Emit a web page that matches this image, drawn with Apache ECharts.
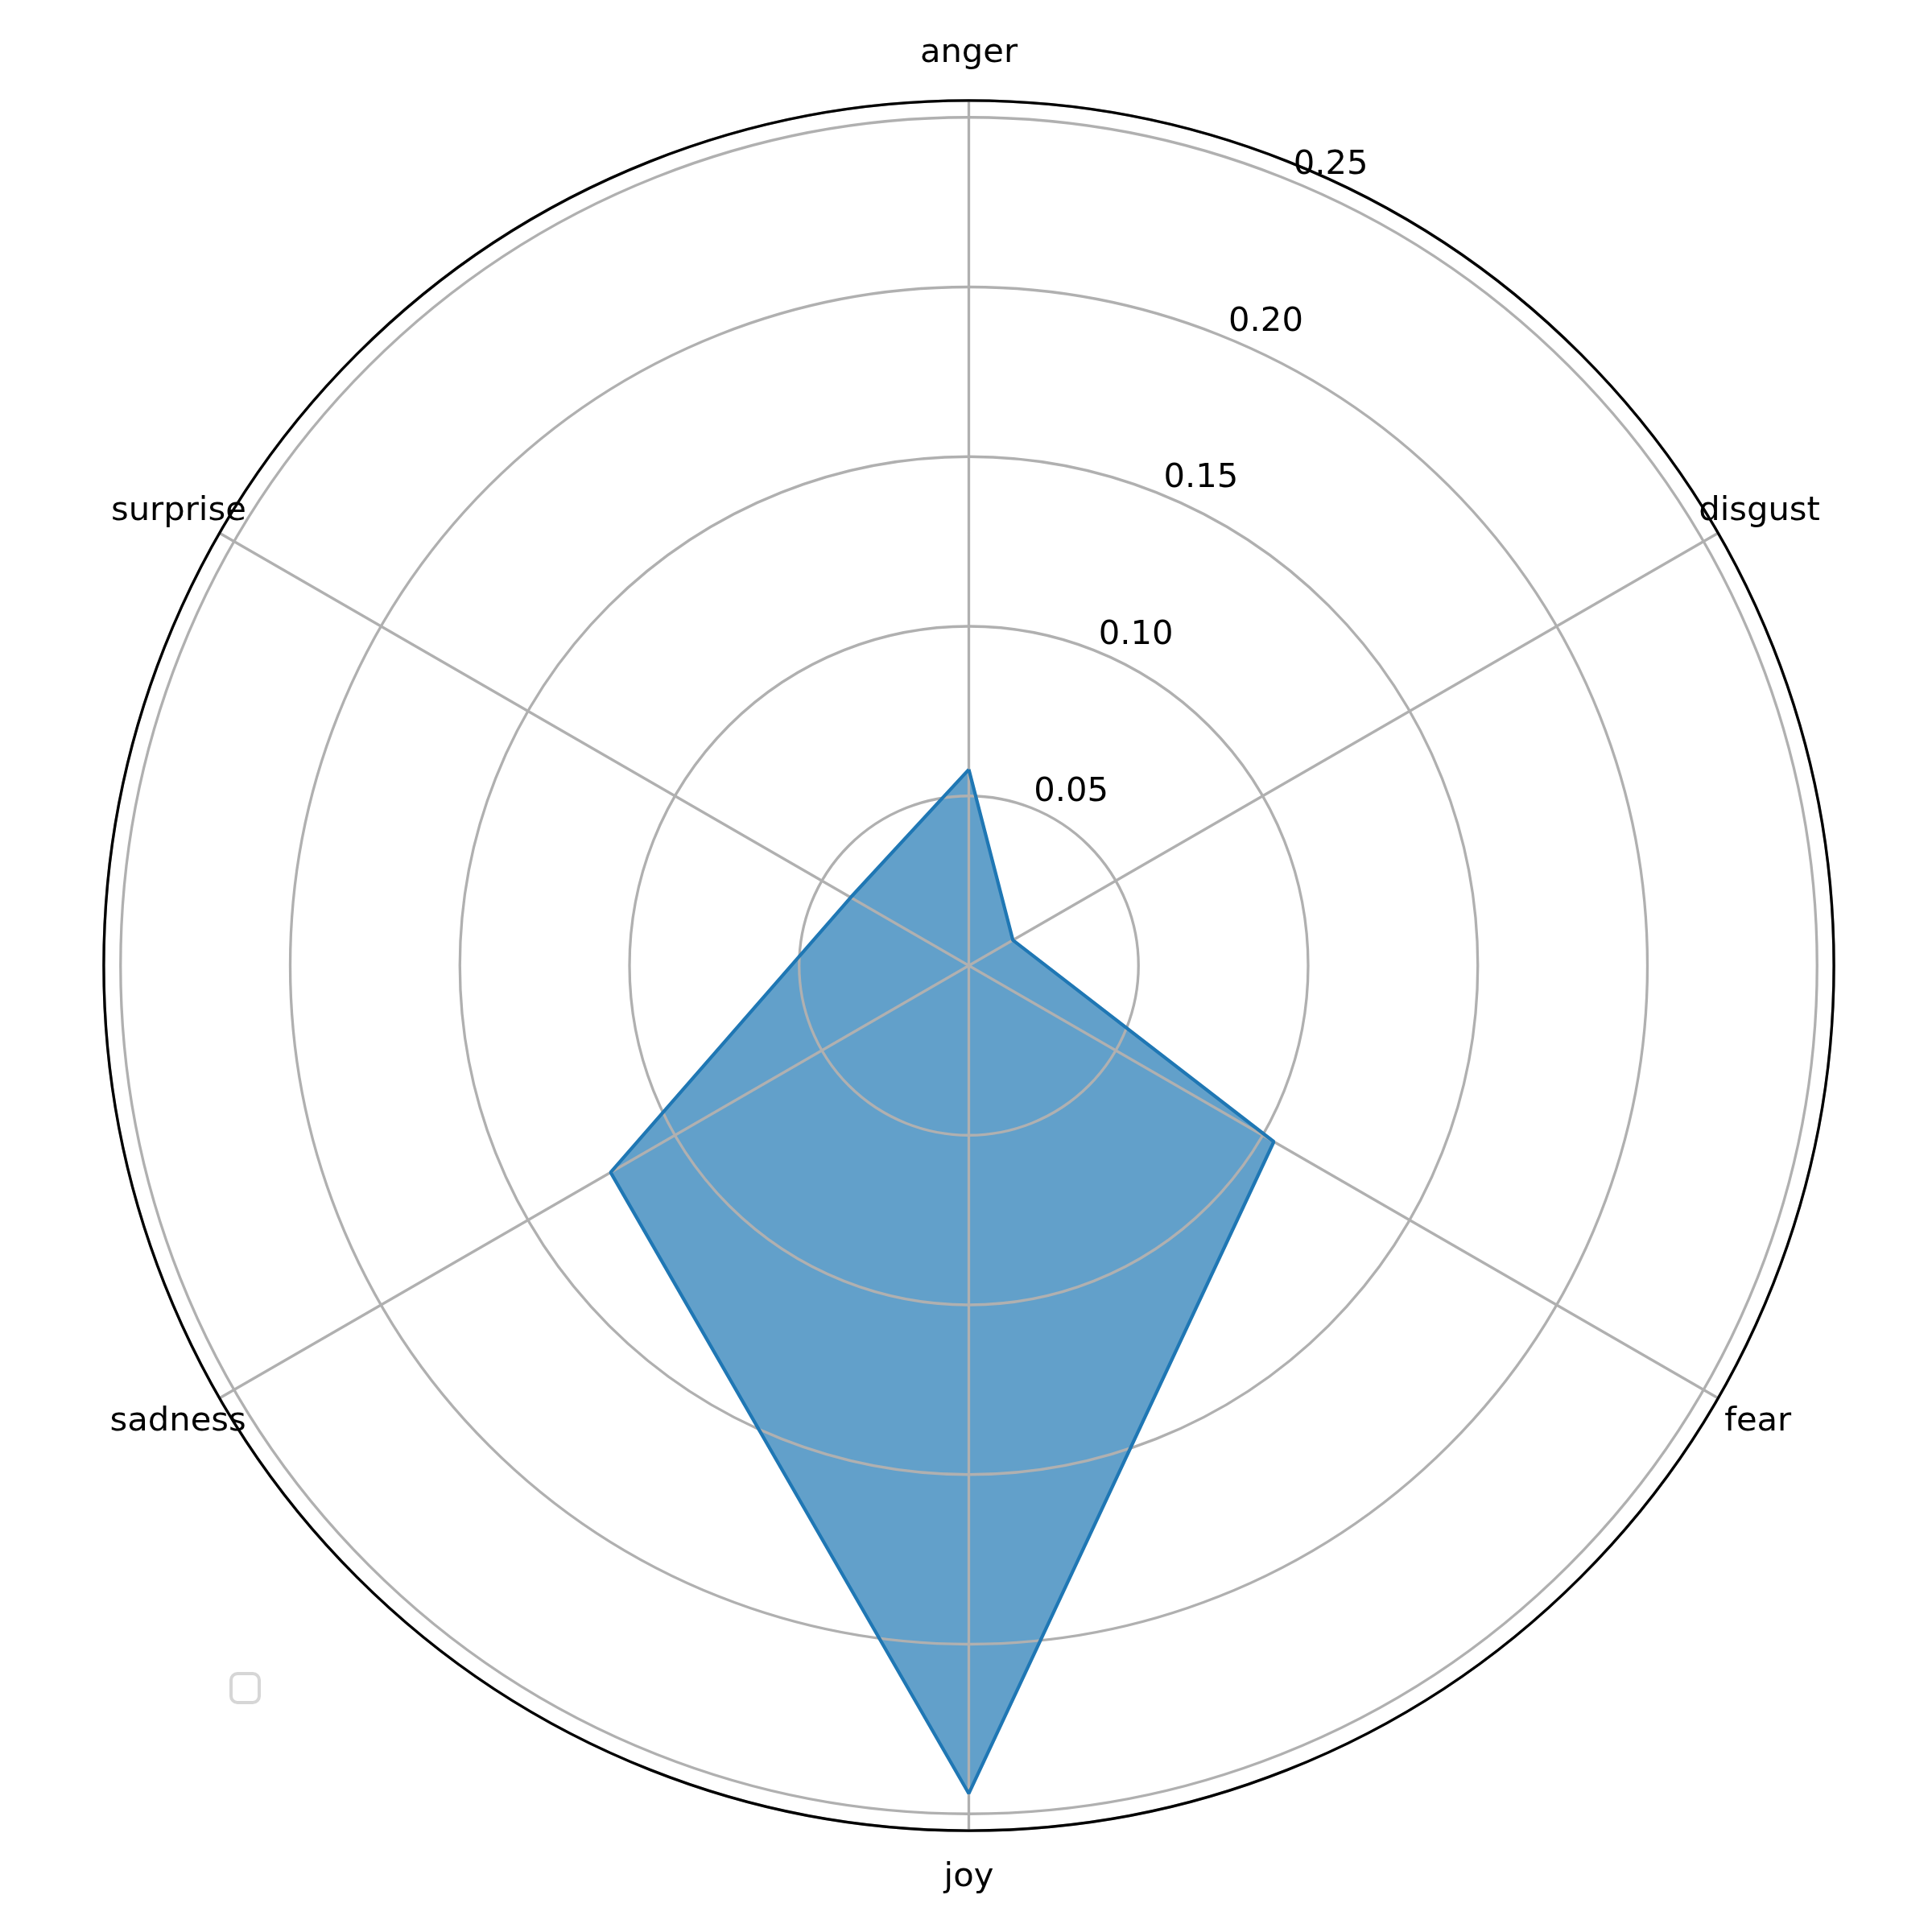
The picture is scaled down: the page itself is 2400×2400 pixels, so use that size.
<!DOCTYPE html>
<html>
<head>
<meta charset="utf-8">
<script src="https://cdn.jsdelivr.net/npm/echarts@6/dist/echarts.min.js"></script>
<style>
html,body{margin:0;padding:0;background:#fff;}
#chart{width:2400px;height:2400px;}
</style>
</head>
<body>
<div id="chart"></div>
<script>
// ---- data ----
const categories = ['anger', 'disgust', 'fear', 'joy', 'sadness', 'surprise'];
const values = [0.0578, 0.0150, 0.1038, 0.2440, 0.1219, 0.0402];
const radiusTicks = [0.05, 0.10, 0.15, 0.20, 0.25];
const radiusMax = 0.25495;

// ---- layout / style ----
const FONT = 'DejaVu Sans';
const FS = 41.7;
const rlabelPos = 22.5;           // radial tick labels at 22.5deg clockwise from top
const step = 360 / categories.length;
const CENTER = [1203.5, 1199.5];
const RADIUS = 1074.6;

const seriesData = categories.map((c, i) => [values[i], i * step]);
seriesData.push([values[0], categories.length * step]);

// per-label paddings [top, right, bottom, left]
const labelPad = {
  anger:    [0, 0, 147, 0],
  disgust:  [0, 0, 46, 9],
  fear:     [50, 0, 0, 41],
  joy:      [147, 0, 0, 0],
  sadness:  [50, 0, 0, 0],
  surprise: [0, 0, 46, 0]
};
const rich = {};
categories.forEach(c => {
  rich[c] = { fontFamily: FONT, fontSize: FS, lineHeight: 46, color: '#000', padding: labelPad[c] };
});

const chart = echarts.init(document.getElementById('chart'), null, { renderer: 'canvas' });
chart.setOption({
  backgroundColor: '#ffffff',
  animation: false,
  polar: [
    { center: CENTER, radius: RADIUS },
    { center: CENTER, radius: RADIUS }
  ],
  angleAxis: [{
    polarIndex: 0,
    type: 'value',
    min: 0,
    max: 360,
    interval: step,
    startAngle: 90,
    clockwise: true,
    z: 3,
    axisLine: { show: true, lineStyle: { color: '#000', width: 3.3 } },
    axisTick: { show: false },
    splitLine: { show: true, lineStyle: { color: '#b0b0b0', width: 3.3 } },
    axisLabel: {
      show: true,
      margin: -38,
      formatter: function (v) {
        const idx = Math.round(v / step);
        if (idx < 0 || idx >= categories.length) return '';
        const name = categories[idx];
        return '{' + name + '|' + name + '}';
      },
      rich: rich
    }
  }, {
    polarIndex: 1,
    type: 'value',
    min: 0,
    max: 360,
    startAngle: 90 - rlabelPos,
    clockwise: true,
    show: false,
    axisLine: { show: false },
    axisTick: { show: false },
    splitLine: { show: false },
    axisLabel: { show: false }
  }],
  radiusAxis: [{
    polarIndex: 0,
    type: 'value',
    min: 0,
    max: radiusMax,
    interval: 0.05,
    z: 2,
    axisLine: { show: false },
    axisTick: { show: false },
    splitLine: { show: true, lineStyle: { color: '#b0b0b0', width: 3.3 } },
    axisLabel: { show: false }
  }, {
    polarIndex: 1,
    type: 'value',
    min: 0,
    max: radiusMax,
    interval: 0.05,
    z: 4,
    axisLine: { show: false },
    axisTick: { show: false },
    splitLine: { show: false },
    axisLabel: {
      show: true,
      margin: 0,
      align: 'left',
      verticalAlign: 'bottom',
      fontFamily: FONT,
      fontSize: FS,
      color: '#000',
      hideOverlap: false,
      formatter: function (v) {
        for (const t of radiusTicks) {
          if (Math.abs(v - t) < 1e-6) return t.toFixed(2);
        }
        return '';
      }
    }
  }],
  series: [{
    type: 'line',
    coordinateSystem: 'polar',
    polarIndex: 0,
    data: seriesData,
    symbol: 'none',
    lineStyle: { width: 0, opacity: 0 },
    areaStyle: { color: '#1f77b4', opacity: 0.7 },
    z: 1
  }, {
    type: 'line',
    coordinateSystem: 'polar',
    polarIndex: 0,
    data: seriesData,
    symbol: 'none',
    lineStyle: { color: '#1f77b4', width: 4.2 },
    z: 5
  }],
  graphic: [{
    type: 'rect',
    shape: { x: 287, y: 2079, width: 35, height: 36, r: 8 },
    style: { fill: '#ffffff', stroke: '#d6d6d6', lineWidth: 4 }
  }]
});
</script>
</body>
</html>
